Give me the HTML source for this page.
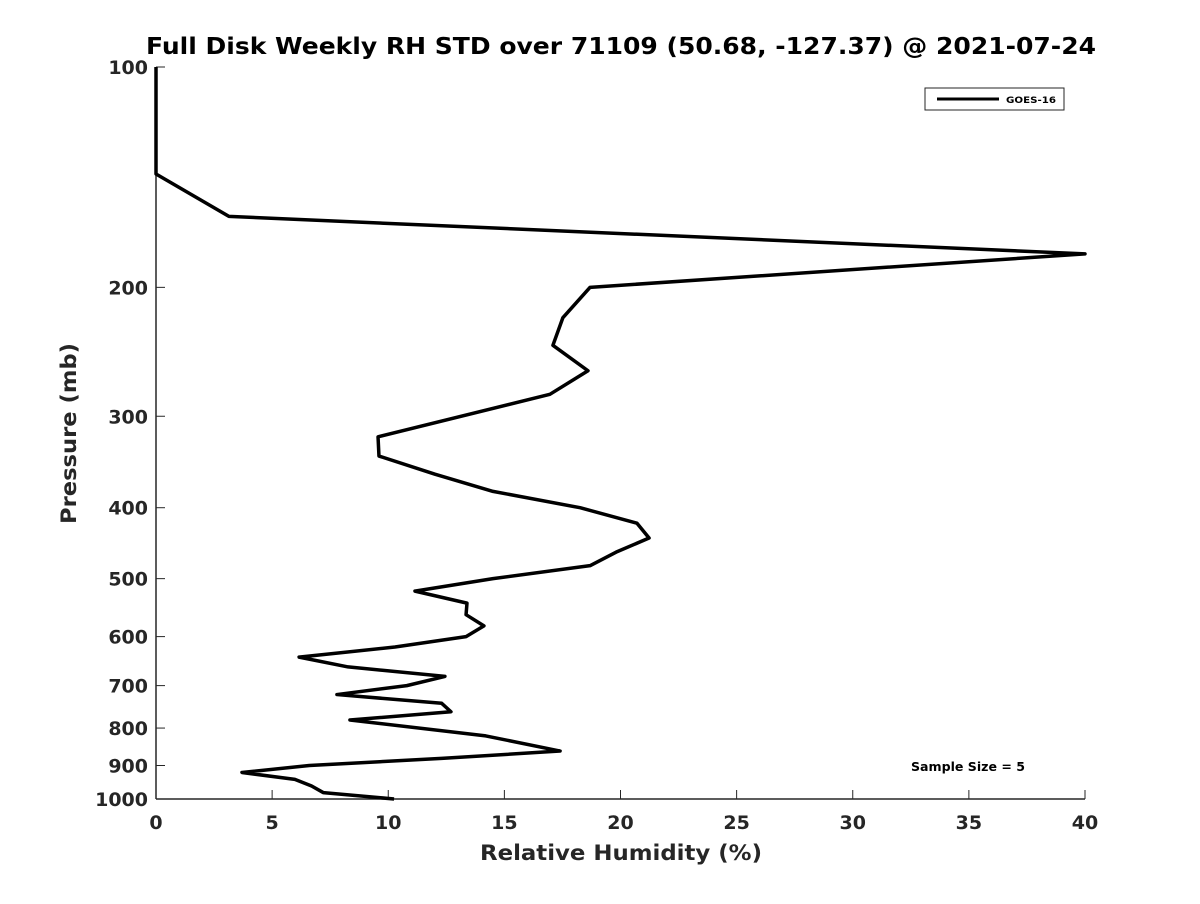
<!DOCTYPE html>
<html><head><meta charset="utf-8"><style>
body{margin:0;background:#fff;font-family:"DejaVu Sans","Liberation Sans",sans-serif}
svg text{font-family:"DejaVu Sans","Liberation Sans",sans-serif}
</style></head><body>
<svg width="1200" height="900" xmlns="http://www.w3.org/2000/svg">
<rect width="1200" height="900" fill="#fff"/>
<g id="g"></g>
</svg>
<script>
const pressures=[100,140,160,180,200,220,240,260,280,320,340,360,380,400,420,440,460,480,500,520,540,560,580,600,620,640,660,680,700,720,740,760,780,820,860,880,900,920,940,960,980,1000];
const rhStd=[0,0,3.14,40,18.69,17.52,17.09,18.6,16.96,9.56,9.6,12.01,14.51,18.26,20.71,21.23,19.81,18.69,14.51,11.15,13.39,13.35,14.12,13.35,10.29,6.16,8.27,12.44,10.8,7.79,12.3,12.7,8.35,14.2,17.4,12.3,6.6,3.7,5.98,6.7,7.2,10.25];
const xTicks=[0,5,10,15,20,25,30,35,40];
const yTicks=[100,200,300,400,500,600,700,800,900,1000];
const X0=156,X1=1085,Y0=67,Y1=799;
const xs=v=>X0+(v/40)*(X1-X0);
const ys=p=>Y0+Math.log10(p/100)*(Y1-Y0);
const NS="http://www.w3.org/2000/svg";
const g=document.getElementById('g');
function mk(t,a,txt){const e=document.createElementNS(NS,t);for(const k in a)e.setAttribute(k,a[k]);if(txt!==undefined)e.textContent=txt;g.appendChild(e);return e;}
let e;
e=mk('line',{x1:X0,y1:Y0,x2:X0,y2:Y1,stroke:'#262626','stroke-width':1.5});


e=mk('line',{x1:X0,y1:Y1,x2:X1,y2:Y1,stroke:'#262626','stroke-width':1.5});


xTicks.forEach(v=>{
 e=mk('line',{x1:xs(v),y1:Y1,x2:xs(v),y2:Y1-9,stroke:'#262626','stroke-width':1});
 
 
 e=mk('text',{x:xs(v),y:Y1+30,'text-anchor':'middle','font-size':19,'font-weight':'bold',fill:'#262626'},String(v));
 
 
});
yTicks.forEach(p=>{
 e=mk('line',{x1:X0,y1:ys(p),x2:X0+9,y2:ys(p),stroke:'#262626','stroke-width':1});
 
 
 e=mk('text',{x:X0-8,y:ys(p)+7,'text-anchor':'end','font-size':19,'font-weight':'bold',fill:'#262626'},String(p));
 
 
});
e=mk('polyline',{points:pressures.map((p,i)=>xs(rhStd[i])+','+ys(p)).join(' '),fill:'none',stroke:'#000','stroke-width':3.5,'stroke-linejoin':'round'});


e=mk('text',{x:146,y:54,'font-size':23,'font-weight':'bold',fill:'#000',textLength:950,lengthAdjust:'spacingAndGlyphs'},'Full Disk Weekly RH STD over 71109 (50.68, -127.37) @ 2021-07-24');


e=mk('text',{x:480,y:860,'font-size':21,'font-weight':'bold',fill:'#262626',textLength:282,lengthAdjust:'spacingAndGlyphs'},'Relative Humidity (%)');


e=mk('text',{x:0,y:0,'font-size':21,'font-weight':'bold',fill:'#262626',textLength:181,lengthAdjust:'spacingAndGlyphs',transform:'translate(76,524) rotate(-90)'},'Pressure (mb)');


e=mk('rect',{x:925,y:88,width:139,height:22,fill:'#fff',stroke:'#262626','stroke-width':1});


e=mk('line',{x1:937,y1:99,x2:999,y2:99,stroke:'#000','stroke-width':3});


e=mk('text',{x:1006,y:103,'font-size':9,'font-weight':'bold',fill:'#000',textLength:50,lengthAdjust:'spacingAndGlyphs'},'GOES-16');


e=mk('text',{x:911,y:771,'font-size':12,'font-weight':'bold',fill:'#000',textLength:114,lengthAdjust:'spacingAndGlyphs'},'Sample Size = 5');


</script>
</body></html>
